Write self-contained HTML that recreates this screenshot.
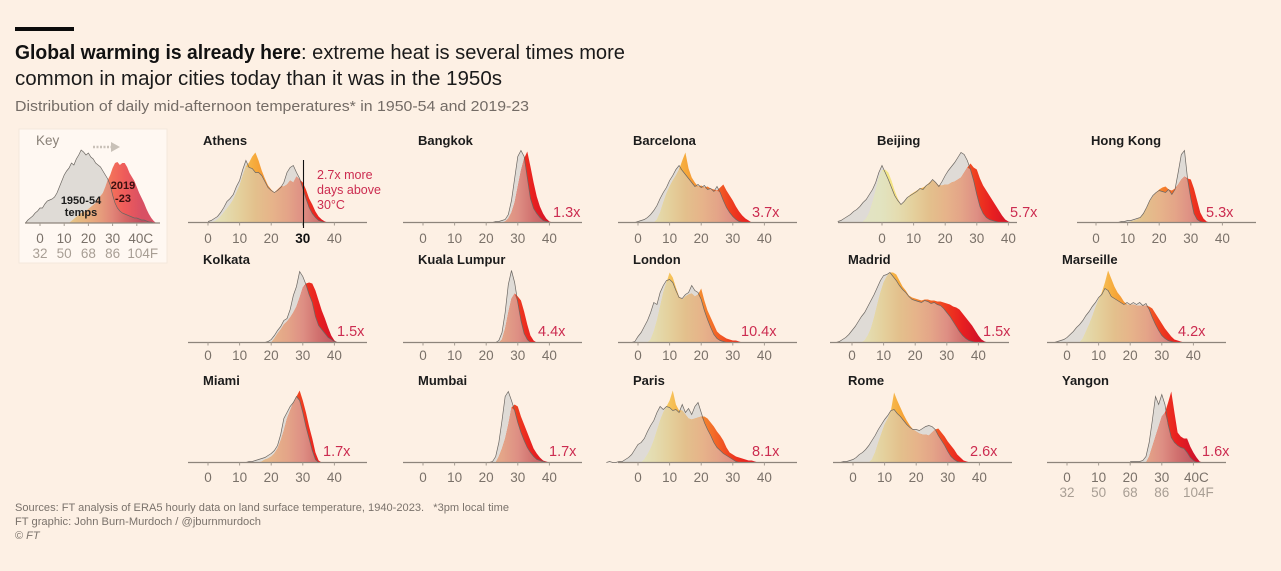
<!DOCTYPE html>
<html lang="en">
<head>
<meta charset="utf-8">
<title>Global warming is already here</title>
<style>
html,body{margin:0;padding:0;background:#fdf0e4;}
svg{display:block;font-family:"Liberation Sans",sans-serif;}
</style>
</head>
<body>
<svg id="chart" xmlns="http://www.w3.org/2000/svg" width="1281" height="571" viewBox="0 0 1281 571">
  <rect x="0" y="0" width="1281" height="571" fill="#fdf0e4"/>
  <rect x="15" y="27" width="59" height="4" fill="#0b0b0b"/>
  <text x="15" y="59" font-size="20" font-weight="bold" fill="#111" textLength="286" lengthAdjust="spacingAndGlyphs">Global warming is already here</text>
  <text x="301" y="59" font-size="20" fill="#1a1a1a" textLength="324" lengthAdjust="spacingAndGlyphs">: extreme heat is several times more</text>
  <text x="15" y="85" font-size="20" fill="#1a1a1a" textLength="487" lengthAdjust="spacingAndGlyphs">common in major cities today than it was in the 1950s</text>
  <text x="15" y="111" font-size="15" fill="#746c66" textLength="514" lengthAdjust="spacingAndGlyphs">Distribution of daily mid-afternoon temperatures* in 1950-54 and 2019-23</text>

  <g id="key">
    <rect x="19" y="129" width="148" height="134" fill="#fff8f2" stroke="#f4e8dc" stroke-width="1"/>
    <text x="36" y="145" font-size="13.5" fill="#8a8178">Key</text>
    <line x1="93" y1="147" x2="112" y2="147" stroke="#c9c1b8" stroke-width="2.5" stroke-dasharray="2 1.5"/>
    <polygon points="111,142 120,147 111,152" fill="#c9c1b8"/>
  </g>

  <g id="panels"></g>

  <g id="keyLabels">
    <text x="81" y="204" font-size="11" font-weight="bold" fill="#1c1c1c" text-anchor="middle">1950-54</text>
    <text x="81" y="216" font-size="11" font-weight="bold" fill="#1c1c1c" text-anchor="middle">temps</text>
    <text x="123" y="189" font-size="11" font-weight="bold" fill="#3a1010" text-anchor="middle">2019</text>
    <text x="123" y="202" font-size="11" font-weight="bold" fill="#3a1010" text-anchor="middle">-23</text>
  </g>

  <g id="athensNote">
    <line x1="303.5" y1="160" x2="303.5" y2="228" stroke="#111" stroke-width="1.1"/>
    <text x="317" y="179" font-size="12.5" fill="#cc2c50">2.7x more</text>
    <text x="317" y="194" font-size="12.5" fill="#cc2c50">days above</text>
    <text x="317" y="209" font-size="12.5" fill="#cc2c50">30°C</text>
  </g>

  <text x="15" y="511" font-size="11" fill="#7a726b" textLength="494" lengthAdjust="spacingAndGlyphs" xml:space="preserve">Sources: FT analysis of ERA5 hourly data on land surface temperature, 1940-2023.   *3pm local time</text>
  <text x="15" y="525" font-size="11" fill="#7a726b" textLength="246" lengthAdjust="spacingAndGlyphs">FT graphic: John Burn-Murdoch / @jburnmurdoch</text>
  <text x="15" y="539" font-size="11" fill="#7a726b">© <tspan font-style="italic">FT</tspan></text>
</svg>

<script>
// ---------- Data: daily frequency per 1°C bin ----------
const celsiusTicks = [0, 10, 20, 30, 40];
const fahrenheitTicks = ["32", "50", "68", "86", "104F"];
const cities = ["Athens","Bangkok","Barcelona","Beijing","Hong Kong","Kolkata","Kuala Lumpur","London","Madrid","Marseille","Miami","Mumbai","Paris","Rome","Yangon"];
const multipliers = ["","1.3x","3.7x","5.7x","5.3x","1.5x","4.4x","10.4x","1.5x","4.2x","1.7x","1.7x","8.1x","2.6x","1.6x"];
const oldFirstTemps = [0,22,-1,-14,7,18,23,-2,-5,-4,12,21,-10,-4,20];
const newFirstTemps = [1,25,5,-6,10,20,24,3,3,4,16,23,1,5,25];

const athensOld = [1,2,4,6,10,15,21,24,28,36,42,53,62,55,54,50,50,47,41,35,32,30,32,35,40,50,55,57,50,44,34,24,15,9,5,2,1,0];
const athensNew = [0,1,3,6,10,14,18,23,30,37,47,56,60,66,70,62,52,44,37,33,30,33,36,36,38,42,40,46,43,40,33,24,18,11,6,3,1,0];
const bangkokOld = [0,1,1,2,3,8,22,44,66,72,66,45,24,14,9,5,2,1,0];
const bangkokNew = [0,1,4,10,20,36,52,64,71,56,40,26,16,9,4,1,0];
const barcelonaOld = [0,1,2,3,5,8,12,17,24,30,35,42,47,53,57,52,48,44,40,36,38,35,37,33,34,31,36,30,22,15,10,6,3,1,0];
const barcelonaNew = [0,3,10,20,29,36,42,47,53,62,70,54,45,40,36,37,35,36,34,33,32,35,38,32,27,22,16,11,7,4,2,0];
const beijingOld = [1,2,4,6,8,11,13,16,20,23,28,33,40,50,57,50,43,35,27,22,18,21,25,27,29,31,34,33,37,39,43,40,36,41,47,52,56,60,65,70,68,62,53,42,28,16,9,5,3,2,1,0];
const beijingNew = [1,4,10,20,32,45,52,53,50,42,32,24,18,21,25,28,30,32,34,35,37,40,42,40,37,37,38,38,40,41,43,45,50,55,59,55,53,44,37,32,27,22,17,12,7,3,1,0];
const hongKongOld = [0,1,1,2,2,3,4,5,9,15,22,27,30,32,31,30,33,28,33,50,68,72,43,24,9,3,1,0];
const hongKongNew = [0,1,2,3,5,9,14,21,26,30,33,35,36,33,32,34,38,43,46,44,43,34,22,10,4,1,0];
const kolkataOld = [0,1,3,7,12,16,22,24,33,47,56,71,66,58,48,40,26,17,13,9,5,3,1,0];
const kolkataNew = [0,4,9,13,18,21,25,30,36,45,55,59,60,59,52,42,32,24,15,7,2,0];
const kualaLumpurOld = [0,2,10,30,58,72,60,40,22,9,3,0];
const kualaLumpurNew = [0,3,14,30,44,49,46,42,31,18,7,2,0];
const londonOld = [0,1,6,10,16,22,30,40,38,50,57,62,63,60,52,45,44,48,50,57,52,50,43,32,23,15,8,4,2,1,0];
const londonNew = [0,3,11,22,36,50,60,70,65,55,46,43,46,48,49,46,48,54,42,32,25,18,11,8,6,4,3,2,2,1,0];
const madridOld = [0,1,3,5,8,12,16,21,26,30,36,42,48,55,62,67,68,70,66,62,57,53,50,46,43,42,41,40,42,41,39,40,38,37,34,30,26,21,16,11,7,4,2,1,0];
const madridNew = [0,2,7,14,25,38,50,60,66,70,70,68,62,56,52,47,45,44,43,42,43,43,42,42,41,41,40,39,38,36,35,33,29,25,21,17,12,7,3,1,0];
const marseilleOld = [0,1,2,3,5,8,11,15,18,22,27,31,36,40,45,48,54,52,46,44,42,40,38,40,38,40,38,40,37,39,33,25,18,12,7,4,2,1,0];
const marseilleNew = [0,4,11,18,26,35,43,50,60,72,64,56,50,46,41,38,38,38,37,37,37,37,36,34,29,24,19,14,10,6,3,2,1,0];
const miamiOld = [0,1,1,2,3,4,5,7,9,12,17,28,44,50,56,60,66,62,50,36,24,12,3,0];
const miamiNew = [0,1,3,4,6,9,14,22,32,44,52,60,66,72,62,50,36,24,10,2,0];
const mumbaiOld = [0,1,6,20,42,66,71,62,52,40,30,22,15,10,6,3,2,1,0];
const mumbaiNew = [0,6,14,24,38,55,58,56,46,38,30,22,14,9,5,2,1,0];
const parisOld = [0,1,0,0,1,1,3,5,8,13,18,20,24,31,37,42,50,56,53,56,55,52,53,50,58,50,54,48,56,60,50,40,33,27,20,15,12,9,7,5,3,1,0];
const parisNew = [0,3,8,14,22,32,42,50,56,62,72,58,52,52,48,44,43,44,45,46,46,44,40,36,31,27,22,15,10,8,6,5,4,3,2,2,1,0];
const romeOld = [0,1,1,2,3,5,8,10,13,17,22,27,33,38,43,47,52,53,49,46,42,38,35,33,33,32,34,36,37,36,33,27,22,17,11,6,3,1,0];
const romeNew = [0,3,10,20,29,38,44,52,70,62,55,48,42,37,33,31,29,28,28,27,30,33,34,30,26,21,17,13,8,5,2,1,0];
const yangonOld = [1,1,1,1,2,6,20,42,66,58,68,58,38,25,20,17,15,14,10,5,2,0];
const yangonNew = [0,6,16,26,36,46,50,60,71,50,30,26,24,24,16,10,5,1,0];

const keyOldFirstTemp = -6;
const keyNewFirstTemp = 12;
const keyOld = [0,3,5,7,10,12,15,15,19,22,23,24,26,30,36,42,48,52,55,60,58,64,68,73,71,68,70,66,64,60,58,56,52,48,44,38,28,20,15,12,10,9,8,7,6,5,5,4,3,3,2,1,1,0];
const keyNew = [0,2,4,6,8,10,11,12,14,16,18,20,24,27,30,36,43,48,55,60,61,58,60,60,56,50,46,42,36,30,25,20,14,9,5,2,0];

const oldSeries = [athensOld,bangkokOld,barcelonaOld,beijingOld,hongKongOld,kolkataOld,kualaLumpurOld,londonOld,madridOld,marseilleOld,miamiOld,mumbaiOld,parisOld,romeOld,yangonOld];
const newSeries = [athensNew,bangkokNew,barcelonaNew,beijingNew,hongKongNew,kolkataNew,kualaLumpurNew,londonNew,madridNew,marseilleNew,miamiNew,mumbaiNew,parisNew,romeNew,yangonNew];

// ---------- Layout (not data) ----------
const LAYOUT = {
  zeroX:  [208,423,638,882,1096, 208,423,638,852,1067, 208,423,638,853,1067],
  base:   [222.5,222.5,222.5,222.5,222.5, 342.5,342.5,342.5,342.5,342.5, 462.5,462.5,462.5,462.5,462.5],
  nameX:  [203,418,633,877,1091, 203,418,633,848,1062, 203,418,633,848,1062],
  nameY:  [145,145,145,145,145, 264,264,264,264,264, 385,385,385,385,385],
  tickY:  [243,243,243,243,243, 360,360,360,360,360, 482,482,482,482,482],
  multX:  [0,553,752,1010,1206, 337,538,741,983,1178, 323,549,752,970,1202],
  multY:  [0,217,217,217,217, 336,336,336,336,336, 456,456,456,456,456],
  axisLeft: [20,20,20,44,19, 20,20,20,22,20, 20,20,20,20,20],
  axisLen:  179
};
const PX_PER_DEG = 3.16, KEY_PX_PER_DEG = 2.42;
const mutedStops = [[-15,"#e4e4cc"],[0,"#e2e3bf"],[5,"#e4dcb0"],[10,"#e4d09c"],[15,"#e3c08c"],[20,"#e6b48a"],[25,"#e4a588"],[30,"#de8f84"],[35,"#d0706e"],[42,"#b85060"]];
const brightStops = [[-15,"#eee99a"],[0,"#f2ea8e"],[5,"#f5df7c"],[10,"#f6c45c"],[15,"#f6a93a"],[20,"#f5892f"],[25,"#f26326"],[30,"#ee3a1f"],[35,"#e81f20"],[42,"#c90f2d"]];

const NS = "http://www.w3.org/2000/svg";
const svg = document.getElementById("chart");
const defs = document.createElementNS(NS, "defs");
svg.insertBefore(defs, svg.firstChild);
const panels = document.getElementById("panels");

function make(tag, attrs, parent) {
  const e = document.createElementNS(NS, tag);
  for (const k in attrs) e.setAttribute(k, attrs[k]);
  parent.appendChild(e);
  return e;
}
function gradient(id, stops, xScale) {
  const g = make("linearGradient", {id: id, gradientUnits: "userSpaceOnUse", x1: xScale(-15), x2: xScale(42), y1: 0, y2: 0}, defs);
  stops.forEach(function (s) {
    make("stop", {offset: (s[0] + 15) / 57, "stop-color": s[1]}, g);
  });
}
function valueAt(series, first, t) {
  const i = t - first;
  return (i >= 0 && i < series.length) ? series[i] : 0;
}
function areaPath(points, xScale, yScale) {
  let d = "M" + xScale(points[0][0]).toFixed(2) + " " + yScale(0).toFixed(2);
  points.forEach(function (p) {
    d += "L" + xScale(p[0]).toFixed(2) + " " + yScale(p[1]).toFixed(2);
  });
  d += "L" + xScale(points[points.length - 1][0]).toFixed(2) + " " + yScale(0).toFixed(2) + "Z";
  return d;
}
function linePath(points, xScale, yScale) {
  return points.map(function (p, i) {
    return (i ? "L" : "M") + xScale(p[0]).toFixed(2) + " " + yScale(p[1]).toFixed(2);
  }).join("");
}
function drawDistributions(group, id, oldVals, oldFirst, newVals, newFirst, xScale, yScale, brightOpacity, overlapOpacity) {
  gradient("muted-" + id, mutedStops, xScale);
  gradient("bright-" + id, brightStops, xScale);
  const oldPts = oldVals.map(function (v, i) { return [oldFirst + i, v]; });
  const newPts = newVals.map(function (v, i) { return [newFirst + i, v]; });
  const lo = newFirst, hi = newFirst + newVals.length - 1;
  const overlap = [];
  for (let t = lo; t <= hi; t++) {
    overlap.push([t, Math.min(valueAt(oldVals, oldFirst, t), valueAt(newVals, newFirst, t))]);
  }
  const a = make("path", {d: areaPath(oldPts, xScale, yScale), fill: "#dfdbd6"}, group);
  
  
  const b = make("path", {d: areaPath(newPts, xScale, yScale), fill: "url(#bright-" + id + ")", "fill-opacity": brightOpacity}, group);
  
  
  const c = make("path", {d: areaPath(overlap, xScale, yScale), fill: "url(#muted-" + id + ")", "fill-opacity": overlapOpacity}, group);
  
  
  const l = make("path", {d: linePath(oldPts, xScale, yScale), fill: "none", stroke: "#6b6661", "stroke-width": 0.7}, group);
  
  
}
function drawAxis(group, xScale, y, left, right) {
  const a = make("line", {x1: left, x2: right, y1: y, y2: y, stroke: "#8d847b", "stroke-width": 1.3}, group);
  
  
  celsiusTicks.forEach(function (t) {
    const m = make("line", {x1: xScale(t), x2: xScale(t), y1: y, y2: y + 3, stroke: "#a59c92", "stroke-width": 1}, group);
    
    
  });
}
function drawTickLabel(group, x, y, label, fill, bold) {
  const t = make("text", {x: x, y: y, "font-size": 13.5, fill: fill, "text-anchor": "middle", "font-weight": bold ? "bold" : "normal"}, group);
  
  
  t.textContent = label;
}

// ---------- City panels ----------
cities.forEach(function (city, i) {
  const zero = LAYOUT.zeroX[i], base = LAYOUT.base[i];
  const xScale = function (t) { return zero + t * PX_PER_DEG; };
  const yScale = function (v) { return base - v; };
  const g = make("g", {}, panels);
  
  

  const title = make("text", {x: LAYOUT.nameX[i], y: LAYOUT.nameY[i], "font-size": 13, "font-weight": "bold", fill: "#1c1c1c"}, g);
  
  
  title.textContent = city;

  drawDistributions(g, "c" + i, oldSeries[i], oldFirstTemps[i], newSeries[i], newFirstTemps[i], xScale, yScale, 1, 1);
  drawAxis(g, xScale, base, zero - LAYOUT.axisLeft[i], zero - LAYOUT.axisLeft[i] + LAYOUT.axisLen);

  celsiusTicks.forEach(function (t, k) {
    let label = String(t), fill = "#7a7169", bold = false;
    if (i === 0 && t === 30) { fill = "#111"; bold = true; }
    if (i === 14 && k === 4) label = t + "C";
    drawTickLabel(g, xScale(t) + (i === 14 && k === 4 ? 3 : 0), LAYOUT.tickY[i], label, fill, bold);
  });
  if (i === 14) {
    fahrenheitTicks.forEach(function (lab, k) {
      drawTickLabel(g, xScale(celsiusTicks[k]) + (k === 4 ? 5 : 0), 497, lab, "#a89e94", false);
    });
  }
  if (multipliers[i]) {
    const m = make("text", {x: LAYOUT.multX[i], y: LAYOUT.multY[i], "font-size": 14.5, fill: "#cc2c50"}, g);
    
    
    m.textContent = multipliers[i];
  }
});

// ---------- Key ----------
(function () {
  const key = document.getElementById("key");
  const xScale = function (t) { return 40 + t * KEY_PX_PER_DEG; };
  const yScale = function (v) { return 223 - v; };
  drawDistributions(key, "key", keyOld, keyOldFirstTemp, keyNew, keyNewFirstTemp, xScale, yScale, 0.72, 0.75);
  drawAxis(key, xScale, 223, 25, 160);
  celsiusTicks.forEach(function (t, k) {
    drawTickLabel(key, xScale(t) + (k === 4 ? 4 : 0), 243, k === 4 ? t + "C" : String(t), "#7a7169", false);
    drawTickLabel(key, xScale(t) + (k === 4 ? 6 : 0), 258, fahrenheitTicks[k], "#a89e94", false);
  });
})();
</script>
</body>
</html>
